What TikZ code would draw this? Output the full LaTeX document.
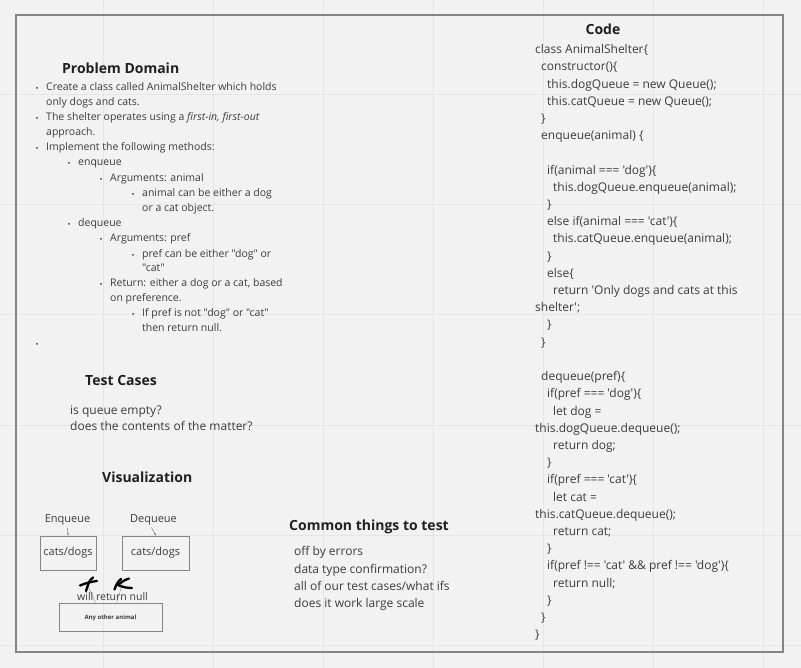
\documentclass[tikz,border=0pt]{standalone}
\usepackage{fontspec}
\newfontfamily\osf{Open Sans}
\usetikzlibrary{arrows.meta}
\definecolor{bg}{HTML}{F2F2F2}
\definecolor{gridc}{HTML}{E5E5E5}
\definecolor{framec}{HTML}{858585}
\definecolor{txt}{HTML}{3C3C3C}
\definecolor{head}{HTML}{202020}
\tikzset{
  pd/.style={anchor=base west, inner sep=0pt, font=\osf\fontsize{10.5}{12}\selectfont, text=txt},
  cd/.style={anchor=base west, inner sep=0pt, font=\osf\fontsize{12}{14}\selectfont, text=txt},
  hd/.style={anchor=base west, inner sep=0pt, font=\osf\bfseries\fontsize{14}{16}\selectfont, text=head},
  lbl/.style={anchor=base, inner sep=0pt, font=\osf\fontsize{11}{13}\selectfont, text=txt},
  vbox/.style={draw=framec, line width=0.9pt, fill=none},
  dot/.style={circle, fill=txt, inner sep=0pt, minimum size=2pt},
  conn/.style={draw=framec!80, line width=0.5pt},
  strike/.style={draw=black, line width=2.3pt, line cap=round, line join=round},
}
\begin{document}
\begin{tikzpicture}[x=1pt,y=-1pt]
\useasboundingbox (0,0) rectangle (801,668);
\fill[bg] (0,0) rectangle (801,668);
% grid
\foreach \gx in {103,213,323,433,543,653,763} \draw[gridc, line width=1pt] (\gx,0) -- (\gx,668);
\foreach \gy in {95,205,315,425,535,645} \draw[gridc, line width=1pt] (0,\gy) -- (801,\gy);
% frame
\draw[framec, line width=1.3pt] (16,15) rectangle (783,652);

% Problem domain
\node[hd] (pdh) at (62,74) {Problem Domain};
\node[dot] (d1) at (37,88) {};
\node[pd] (p1) at (46,91) {Create a class called AnimalShelter which holds};
\node[pd] (p2) at (46,106) {only dogs and cats.};
\node[dot] (d2) at (37,118) {};
\node[pd] (p3) at (46,121) {The shelter operates using a \textit{first-in, first-out}};
\node[pd] (p4) at (46,136) {approach.};
\node[dot] (d3) at (37,148) {};
\node[pd] (p5) at (46,151) {Implement the following methods:};
\node[dot] (d4) at (69,163) {};
\node[pd] (p6) at (78,166) {enqueue};
\node[dot] (d5) at (101,179) {};
\node[pd] (p7) at (110,182) {Arguments: animal};
\node[dot] (d6) at (133,194) {};
\node[pd] (p8) at (142,197) {animal can be either a dog};
\node[pd] (p9) at (142,212) {or a cat object.};
\node[dot] (d7) at (69,224) {};
\node[pd] (p10) at (78,227) {dequeue};
\node[dot] (d8) at (101,239) {};
\node[pd] (p11) at (110,242) {Arguments: pref};
\node[dot] (d9) at (133,255) {};
\node[pd] (p12) at (142,258) {pref can be either "dog" or};
\node[pd] (p13) at (142,272) {"cat"};
\node[dot] (d10) at (101,284) {};
\node[pd] (p14) at (110,287) {Return: either a dog or a cat, based};
\node[pd] (p15) at (110,302) {on preference.};
\node[dot] (d11) at (133,314) {};
\node[pd] (p16) at (142,317) {If pref is not "dog" or "cat"};
\node[pd] (p17) at (142,332) {then return null.};
\node[dot] (d12) at (37,344) {};

% Test cases
\node[hd] (tch) at (85,386) {Test Cases};
\node[cd] (tc1) at (70,414) {is queue empty?};
\node[cd] (tc2) at (70,431) {does the contents of the matter?};

% Visualization
\node[hd] (vh) at (102,482.7) {Visualization};
\node[lbl] (enq) at (67.5,522.7) {Enqueue};
\node[lbl] (deq) at (153.5,522.7) {Dequeue};
\node[vbox, minimum width=56pt, minimum height=34pt, inner sep=0pt] (b1) at (68,553) {};
\node[lbl] (b1t) at (68,555.7) {cats/dogs};
\node[vbox, minimum width=67pt, minimum height=34pt, inner sep=0pt] (b2) at (155.5,553) {};
\node[lbl] (b2t) at (155.5,555.7) {cats/dogs};
\node[vbox, minimum width=103pt, minimum height=28pt, inner sep=0pt] (b3) at (110.5,617) {};
\node[anchor=base, inner sep=0pt, font=\osf\bfseries\fontsize{6}{7}\selectfont, text=txt] (b3t) at (110.5,619) {Any other animal};
\draw[framec!90!black, line width=0.5pt, -{Stealth[length=2.5pt,width=2pt]}] (enq.south) ++(0,2) -- (b1.north);
\draw[framec!90!black, line width=0.5pt, -{Stealth[length=2.5pt,width=2pt]}] (deq.south) ++(-2,2) .. controls (153,531) .. ([xshift=0.5pt]b2.north);
\coordinate (m1) at (86,582);
\coordinate (m2) at (123,582);
\draw[conn] (m1) -- ([xshift=37pt]b3.north west);
\draw[conn] (m2) -- ([xshift=58pt]b3.north west);
\node[anchor=base, inner sep=0pt, font=\osf\fontsize{10.5}{12}\selectfont, text=txt] (wrn) at (112.5,600.7) {will return null};
% strike marks
\draw[strike] (80,585.5) .. controls (86,583) and (92,581.5) .. (97,581);
\draw[strike] (86,591) .. controls (88,585) and (89,580) .. (93,577.5);
\draw[strike] (114.5,589.5) .. controls (116,585) and (118,581) .. (121,579);
\draw[strike] (129,578.5) .. controls (124,580) and (120,583) .. (118,585) .. controls (122,587) and (127,588) .. (132,588);

% Common things to test
\node[hd] (cth) at (289,530.7) {Common things to test};
\node[cd] (ct1) at (294,555.7) {off by errors};
\node[cd] (ct2) at (294,573.3) {data type confirmation?};
\node[cd] (ct3) at (294,590.6) {all of our test cases/what ifs};
\node[cd] (ct4) at (294,607.9) {does it work large scale};

% Code
\node[hd, anchor=base] (codeh) at (603,35) {Code};
\foreach \i/\xx/\t in {
 1/535/{class AnimalShelter\{},
 2/541/{constructor()\{},
 3/547/{this.dogQueue = new Queue();},
 4/547/{this.catQueue = new Queue();},
 5/541/{\}},
 6/541/{enqueue(animal) \{},
 8/547/{if(animal === 'dog')\{},
 9/553/{this.dogQueue.enqueue(animal);},
 10/547/{\}},
 11/547/{else if(animal === 'cat')\{},
 12/553/{this.catQueue.enqueue(animal);},
 13/547/{\}},
 14/547/{else\{},
 15/553/{return 'Only dogs and cats at this},
 16/535/{shelter';},
 17/547/{\}},
 18/541/{\}},
 20/541/{dequeue(pref)\{},
 21/547/{if(pref === 'dog')\{},
 22/553/{let dog =},
 23/535/{this.dogQueue.dequeue();},
 24/553/{return dog;},
 25/547/{\}},
 26/547/{if(pref === 'cat')\{},
 27/553/{let cat =},
 28/535/{this.catQueue.dequeue();},
 29/553/{return cat;},
 30/547/{\}},
 31/547/{if(pref !== 'cat' \&\& pref !== 'dog')\{},
 32/553/{return null;},
 33/547/{\}},
 34/541/{\}},
 35/535/{\}}}
 \node[cd] (code\i) at (\xx,{53.8+(\i-1)*17.2}) {\t};
\end{tikzpicture}
\end{document}
